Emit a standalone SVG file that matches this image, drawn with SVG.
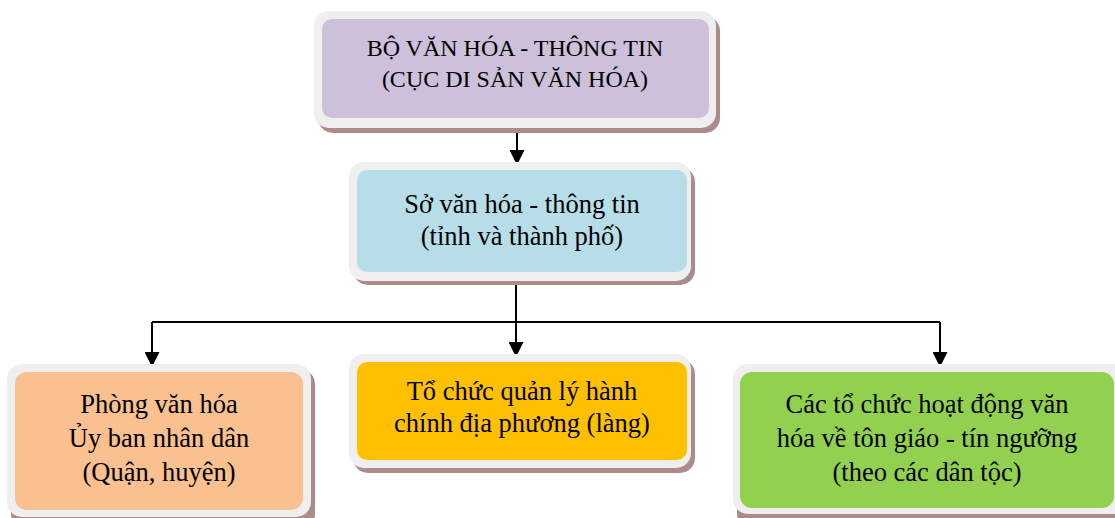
<svg xmlns="http://www.w3.org/2000/svg" width="1115" height="518" viewBox="0 0 1115 518">
<style>
.shadow{fill:#ad8b8b}
.frame{fill:#efefef}
.t{font-family:"Liberation Serif","Times New Roman",serif;fill:#000;text-anchor:middle}
.caps{font-size:24px}
.low{font-size:26.5px}
.conn{fill:none;stroke:#000;stroke-width:2}
</style>
<defs>
<marker id="ah" markerUnits="userSpaceOnUse" markerWidth="15" markerHeight="15" refX="15" refY="7.5" orient="auto">
<path d="M0,0 L15,7.5 L0,15 Z" fill="#000"/>
</marker>
</defs>
<rect width="1115" height="518" fill="#fff"/>

<g id="connectors">
<path class="conn" d="M517,131 V165" marker-end="url(#ah)"/>
<path class="conn" d="M516,285 V357" marker-end="url(#ah)"/>
<path class="conn" d="M152,322 H940"/>
<path class="conn" d="M152,322 V367" marker-end="url(#ah)"/>
<path class="conn" d="M940,322 V367" marker-end="url(#ah)"/>
</g>

<g id="node-bo">
<rect class="shadow" x="318" y="16" width="402" height="117" rx="15"/>
<rect class="frame" x="314" y="11" width="402" height="117" rx="15"/>
<rect x="322" y="19" width="387" height="99" rx="10" fill="#ccc0da"/>
<text class="t caps" x="515" y="56">BỘ VĂN HÓA - THÔNG TIN</text>
<text class="t caps" x="515" y="87">(CỤC DI SẢN VĂN HÓA)</text>
</g>

<g id="node-so">
<rect class="shadow" x="353" y="167" width="342" height="118" rx="15"/>
<rect class="frame" x="349" y="162" width="342" height="119" rx="15"/>
<rect x="357" y="170" width="330" height="102" rx="10" fill="#b7dde8"/>
<text class="t low" x="522" y="213">Sở văn hóa - thông tin</text>
<text class="t low" x="522" y="245">(tỉnh và thành phố)</text>
</g>

<g id="node-phong">
<rect class="shadow" x="11" y="369" width="304" height="160" rx="15"/>
<rect class="frame" x="7" y="364" width="304" height="153" rx="15"/>
<rect x="15" y="372" width="288" height="138" rx="12" fill="#fac090"/>
<text class="t low" x="159" y="413">Phòng văn hóa</text>
<text class="t low" x="159" y="447">Ủy ban nhân dân</text>
<text class="t low" x="159" y="481">(Quận, huyện)</text>
</g>

<g id="node-to-chuc">
<rect class="shadow" x="353" y="359" width="342" height="114" rx="15"/>
<rect class="frame" x="349" y="354" width="342" height="114" rx="15"/>
<rect x="357" y="362" width="330" height="98" rx="10" fill="#ffc000"/>
<text class="t low" x="522" y="400">Tổ chức quản lý hành</text>
<text class="t low" x="522" y="432">chính địa phương (làng)</text>
</g>

<g id="node-cac-to-chuc">
<rect class="shadow" x="737" y="369" width="400" height="160" rx="15"/>
<rect class="frame" x="733" y="364" width="400" height="150" rx="15"/>
<rect x="740" y="372" width="374" height="136" rx="12" fill="#92d050"/>
<text class="t low" x="927" y="413">Các tổ chức hoạt động văn</text>
<text class="t low" x="927" y="447">hóa về tôn giáo - tín ngưỡng</text>
<text class="t low" x="927" y="481">(theo các dân tộc)</text>
</g>
</svg>
